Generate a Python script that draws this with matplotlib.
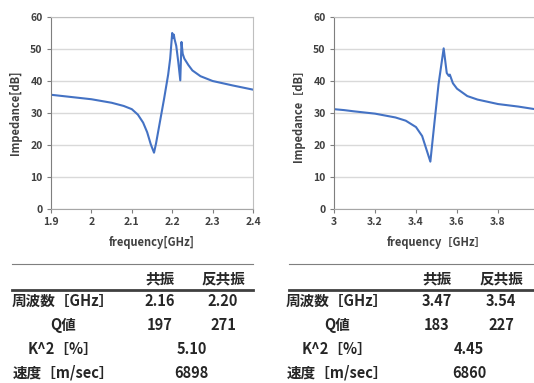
import numpy as np
import matplotlib.pyplot as plt

plt.rcParams['font.family'] = ['Noto Sans CJK JP', 'DejaVu Sans']

# left device: impedance vs frequency
f1 = [1.9, 1.95, 2.0, 2.05, 2.08, 2.1, 2.115, 2.128, 2.138, 2.147, 2.155, 2.16, 2.17, 2.18,
      2.19, 2.195, 2.2, 2.202, 2.204, 2.206, 2.21, 2.215, 2.22, 2.223, 2.226, 2.23,
      2.24, 2.25, 2.27, 2.3, 2.35, 2.4]
z1 = [35.7, 35.0, 34.3, 33.2, 32.2, 31.2, 29.5, 27.0, 24.0, 20.2, 17.6, 20.5, 27.5, 34.5,
      42.0, 47.0, 55.0, 53.5, 54.5, 53.0, 51.0, 46.0, 40.2, 52.2, 48.5, 47.0,
      45.0, 43.3, 41.5, 40.0, 38.6, 37.3]

# right device
f2 = [3.0, 3.05, 3.1, 3.2, 3.3, 3.35, 3.4, 3.43, 3.45, 3.47, 3.49, 3.51, 3.535, 3.55,
      3.56, 3.565, 3.58, 3.6, 3.65, 3.7, 3.8, 3.9, 4.0]
z2 = [31.2, 30.9, 30.5, 29.8, 28.6, 27.6, 25.6, 22.8, 18.8, 14.8, 27.0, 39.0, 50.2, 42.5,
      41.6, 42.0, 39.3, 37.6, 35.3, 34.2, 32.8, 32.0, 31.0]

head = ['共振', '反共振']
rows = ['周波数［GHz］', 'Q値', 'K^2［%］', '速度［m/sec］']
tab1 = [['2.16', '2.20'], ['197', '271'], ['5.10'], ['6898']]
tab2 = [['3.47', '3.54'], ['183', '227'], ['4.45'], ['6860']]

W, H = 534, 383
fig = plt.figure(figsize=(W / 100, H / 100), dpi=100)
blue = '#4472C4'


def px(x0, y0, x1, y1):
    return [x0 / W, 1 - y1 / H, (x1 - x0) / W, (y1 - y0) / H]


def chart(rect, f, z, xlim, xticks, xtl, xlabel, ylabel):
    ax = fig.add_axes(rect)
    ax.plot(f, z, color=blue, lw=1.5)
    ax.set_xlim(*xlim)
    ax.set_ylim(0, 60)
    ax.set_yticks(range(0, 61, 10))
    ax.set_xticks(xticks)
    ax.set_xticklabels(xtl)
    ax.grid(axis='y', color='#D9D9D9', lw=1)
    ax.set_axisbelow(True)
    for s in ['top', 'right']:
        ax.spines[s].set_color('#BFBFBF')
    ax.spines['left'].set_color('#7F7F7F')
    ax.spines['bottom'].set_color('#A6A6A6')
    ax.tick_params(length=3, width=0.8, color='#7F7F7F', labelsize=7.5, pad=3)
    for t in ax.get_xticklabels() + ax.get_yticklabels():
        t.set_fontweight('bold')
        t.set_color('#404040')
    ax.set_xlabel(xlabel, fontsize=8, fontweight='bold', color='#404040', labelpad=6)
    ax.set_ylabel(ylabel, fontsize=8, fontweight='bold', color='#404040', labelpad=6)
    return ax


chart(px(51, 17, 253, 209), f1, z1, (1.9, 2.4),
      [1.9, 2.0, 2.1, 2.2, 2.3, 2.4], ['1.9', '2', '2.1', '2.2', '2.3', '2.4'],
      'frequency[GHz]', 'Impedance[dB]')
chart(px(334, 17, 539, 209), f2, z2, (3.0, 4.0),
      [3.0, 3.2, 3.4, 3.6, 3.8], ['3', '3.2', '3.4', '3.6', '3.8'],
      'frequency［GHz］', 'Impedance［dB］')


def table(x0, x1, xlab, xc1, xc2, data):
    fig.add_artist(plt.Line2D([x0 / W, x1 / W], [1 - 264 / H] * 2, color='#7F7F7F', lw=0.8))
    fig.add_artist(plt.Line2D([x0 / W, x1 / W], [1 - 289.5 / H] * 2, color='#404040', lw=2))
    kw = dict(ha='center', va='center', fontsize=10.5, fontweight='bold', color='#262626')
    fig.text(xc1 / W, 1 - 278 / H, head[0], **kw)
    fig.text(xc2 / W, 1 - 278 / H, head[1], **kw)
    for i, (lab, vals) in enumerate(zip(rows, data)):
        y = 1 - (301 + 24 * i) / H
        fig.text(xlab / W, y, lab, **kw)
        if len(vals) == 2:
            fig.text(xc1 / W, y, vals[0], **kw)
            fig.text(xc2 / W, y, vals[1], **kw)
        else:
            fig.text((xc1 + xc2) / 2 / W, y, vals[0], **kw)


table(12, 253, 63, 160, 223, tab1)
table(289, 540, 337, 437, 501, tab2)

plt.savefig('out.png', dpi=100)
